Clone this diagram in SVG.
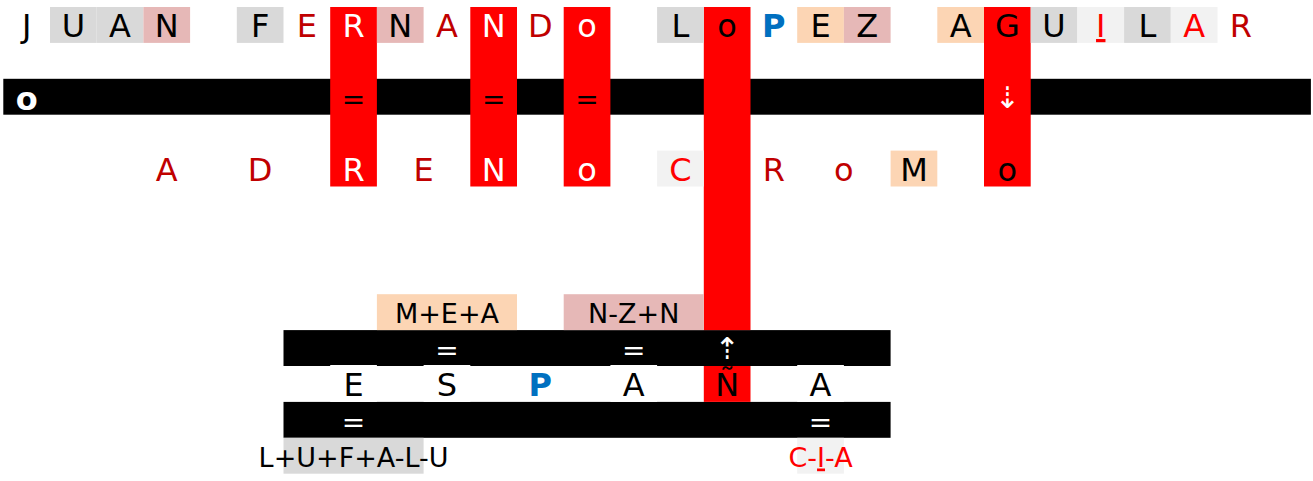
<svg xmlns="http://www.w3.org/2000/svg" width="1313" height="481" viewBox="0 0 1313 481">
<style>
.t{font-family:"DejaVu Sans","Liberation Sans",sans-serif;font-size:32px;text-anchor:middle}
.s{font-size:27px}
.e{font-size:28px}
.a{font-size:30px}
.b{font-weight:bold}
.k{fill:#000}.w{fill:#fff}.dr{fill:#c00000}.r{fill:#ff0000}.bl{fill:#0070c0}
.gray{fill:#d9d9d9}.lg{fill:#f2f2f2}.pk{fill:#e6b8b7}.pc{fill:#fcd5b4}.red{fill:#ff0000}.bar{fill:#000}.wb{fill:#fff}
.u{text-decoration:underline}
</style>
<rect width="1313" height="481" fill="#fff"/>
<g id="bars">
<rect class="bar" x="3.3" y="78.8" width="1307.6" height="35.9"/>
<rect class="bar" x="283.5" y="330.1" width="607.1" height="35.9"/>
<rect class="bar" x="283.5" y="401.9" width="607.1" height="35.9"/>
</g>
<g id="columns">
<rect id="col7" class="red" x="330.2" y="7" width="46.7" height="179.5"/>
<rect id="col10" class="red" x="470.3" y="7" width="46.7" height="179.5"/>
<rect id="col12" class="red" x="563.7" y="7" width="46.7" height="179.5"/>
<rect id="col15" class="red" x="703.8" y="7" width="46.7" height="323.1"/>
<rect id="col21" class="red" x="984" y="7" width="46.7" height="179.5"/>
</g>
<g id="r0c0"><text class="t k" x="26.65" y="37">J</text></g>
<g id="r0c1"><rect class="gray" x="50" y="7" width="46.7" height="35.9"/><text class="t k" x="73.35" y="37">U</text></g>
<g id="r0c2"><rect class="gray" x="96.7" y="7" width="46.7" height="35.9"/><text class="t k" x="120.05" y="37">A</text></g>
<g id="r0c3"><rect class="pk" x="143.4" y="7" width="46.7" height="35.9"/><text class="t k" x="166.75" y="37">N</text></g>
<g id="r0c5"><rect class="gray" x="236.8" y="7" width="46.7" height="35.9"/><text class="t k" x="260.15" y="37">F</text></g>
<g id="r0c6"><text class="t dr" x="306.85" y="37">E</text></g>
<g id="r0c7"><text class="t w" x="353.55" y="37">R</text></g>
<g id="r0c8"><rect class="pk" x="376.9" y="7" width="46.7" height="35.9"/><text class="t k" x="400.25" y="37">N</text></g>
<g id="r0c9"><text class="t dr" x="446.95" y="37">A</text></g>
<g id="r0c10"><text class="t w" x="493.65" y="37">N</text></g>
<g id="r0c11"><text class="t dr" x="540.35" y="37">D</text></g>
<g id="r0c12"><text class="t w" x="587.05" y="37">o</text></g>
<g id="r0c14"><rect class="gray" x="657.1" y="7" width="46.7" height="35.9"/><text class="t k" x="680.45" y="37">L</text></g>
<g id="r0c15"><text class="t k" x="727.15" y="37">o</text></g>
<g id="r0c16"><text class="t bl b" x="773.85" y="37">P</text></g>
<g id="r0c17"><rect class="pc" x="797.2" y="7" width="46.7" height="35.9"/><text class="t k" x="820.55" y="37">E</text></g>
<g id="r0c18"><rect class="pk" x="843.9" y="7" width="46.7" height="35.9"/><text class="t k" x="867.25" y="37">Z</text></g>
<g id="r0c20"><rect class="pc" x="937.3" y="7" width="46.7" height="35.9"/><text class="t k" x="960.65" y="37">A</text></g>
<g id="r0c21"><text class="t k" x="1007.35" y="37">G</text></g>
<g id="r0c22"><rect class="gray" x="1030.7" y="7" width="46.7" height="35.9"/><text class="t k" x="1054.05" y="37">U</text></g>
<g id="r0c23"><rect class="lg" x="1077.4" y="7" width="46.7" height="35.9"/><text class="t r u" x="1100.75" y="37">I</text></g>
<g id="r0c24"><rect class="gray" x="1124.1" y="7" width="46.7" height="35.9"/><text class="t k" x="1147.45" y="37">L</text></g>
<g id="r0c25"><rect class="lg" x="1170.8" y="7" width="46.7" height="35.9"/><text class="t r" x="1194.15" y="37">A</text></g>
<g id="r0c26"><text class="t dr" x="1240.85" y="37">R</text></g>
<g id="r2c0"><text class="t w b" x="26.65" y="110">o</text></g>
<g id="r2c7"><text class="t e k" x="353.55" y="109">=</text></g>
<g id="r2c10"><text class="t e k" x="493.65" y="109">=</text></g>
<g id="r2c12"><text class="t e k" x="587.05" y="109">=</text></g>
<g id="r4c3"><text class="t dr" x="166.75" y="180.6">A</text></g>
<g id="r4c5"><text class="t dr" x="260.15" y="180.6">D</text></g>
<g id="r4c7"><text class="t w" x="353.55" y="180.6">R</text></g>
<g id="r4c8"><text class="t dr" x="423.6" y="180.6">E</text></g>
<g id="r4c10"><text class="t w" x="493.65" y="180.6">N</text></g>
<g id="r4c12"><text class="t w" x="587.05" y="180.6">o</text></g>
<g id="r4c14"><rect class="lg" x="657.1" y="150.6" width="46.7" height="35.9"/><text class="t r" x="680.45" y="180.6">C</text></g>
<g id="r4c16"><text class="t dr" x="773.85" y="180.6">R</text></g>
<g id="r4c17"><text class="t dr" x="843.9" y="180.6">o</text></g>
<g id="r4c19"><rect class="pc" x="890.6" y="150.6" width="46.7" height="35.9"/><text class="t k" x="913.95" y="180.6">M</text></g>
<g id="r4c21"><text class="t k" x="1007.35" y="180.6">o</text></g>
<g id="lbl-mea"><rect class="pc" x="376.9" y="294.2" width="140.1" height="35.9"/><text class="t s k" x="446.95" y="322.5">M+E+A</text></g>
<g id="lbl-nzn"><rect class="pk" x="563.7" y="294.2" width="140.1" height="35.9"/><text class="t s k" x="633.75" y="322.5">N-Z+N</text></g>
<g id="r9c9"><text class="t e w" x="446.95" y="360">=</text></g>
<g id="r9c13"><text class="t e w" x="633.75" y="360">=</text></g>
<g id="r10c7"><rect class="wb" x="330.2" y="365" width="46.7" height="36.9"/><text class="t k" x="353.55" y="396">E</text></g>
<g id="r10c9"><rect class="wb" x="423.6" y="365" width="46.7" height="36.9"/><text class="t k" x="446.95" y="396">S</text></g>
<g id="r10c11"><text class="t bl b" x="540.35" y="396">P</text></g>
<g id="r10c13"><rect class="wb" x="610.4" y="365" width="46.7" height="36.9"/><text class="t k" x="633.75" y="396">A</text></g>
<g id="r10c15"><rect class="red" x="703.8" y="366" width="46.7" height="35.9"/><text class="t k" x="727.15" y="396">Ñ</text></g>
<g id="r10c17"><rect class="wb" x="797.2" y="365" width="46.7" height="36.9"/><text class="t k" x="820.55" y="396">A</text></g>
<g id="r11c7"><text class="t e w" x="353.55" y="432">=</text></g>
<g id="r11c17"><text class="t e w" x="820.55" y="432">=</text></g>
<g id="lbl-lufalu"><rect class="gray" x="283.5" y="437.8" width="140.1" height="35.9"/><text class="t s k" x="353.55" y="466.5">L+U+F+A-L-U</text></g>
<g id="lbl-cia"><rect class="lg" x="797.2" y="437.8" width="46.7" height="35.9"/><text class="t s r" x="820.55" y="466.5">C-<tspan class="u">I</tspan>-A</text></g>
<g id="connectors">
<text class="t a w" x="1007.35" y="108">⇣</text>
<text class="t a w" x="727.15" y="359">⇡</text>
</g>
</svg>
